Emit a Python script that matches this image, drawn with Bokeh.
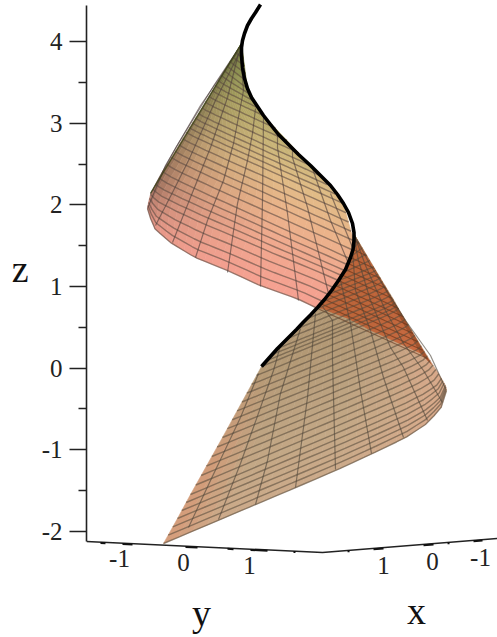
import numpy as np
from bokeh.plotting import figure
from bokeh.models import Range1d, LinearAxis, FixedTicker
from bokeh.core.properties import value
from bokeh.embed import file_html
from bokeh.resources import INLINE

# ---- readings from the picture (projected x, projected height) ----
z_ticks = [-2, -1, 0, 1, 2, 3, 4]
z_minor = [-1.5, -0.5, 0.5, 1.5, 2.5, 3.5]
z_bounds = (-2.125, 4.44)

y_tick_labels = ["-1", "0", "1"]
y_tick_x = [119, 183, 249]
y_tick_y = [558, 562, 565]
x_tick_labels = ["1", "0", "-1"]
x_tick_x = [383, 432, 480]
x_tick_y = [565, 561, 557]
floor_x = [86, 322, 497]
floor_y = [541, 552, 538]
tick_from = [100, 122, 185, 227, 250, 293, 347, 373, 423, 447, 473]
tick_to = [105, 132, 197, 233, 267, 295, 349, 383, 433, 449, 482]

curve_x = [260, 257.5, 255, 251, 247, 244, 242, 241, 241, 242, 244, 247, 251, 257, 263, 270, 278, 287, 298, 310,
           320, 330, 337, 343, 348, 352, 353.5, 353.5, 352.5, 350, 345, 338, 331, 324, 317, 310, 303, 296, 287, 277, 269, 261]
curve_y = [4, 8, 12, 18, 25, 33, 40, 47, 55, 67, 78, 88, 97, 106, 115, 124, 134, 143, 154, 165,
           175, 185, 194, 203, 212, 223, 232, 240, 249, 257, 269, 280, 290, 299, 307, 314.5, 321.5, 329, 338, 348, 357, 366]

# upper sheet: cross lines, anchors by line number
up_j = [0, 6, 10, 14, 18, 22, 24, 26, 28, 30, 32]
up_lx = [241, 224, 212, 198, 186, 171, 162, 155, 150, 148, 147]
up_ly = [43, 70, 90, 113, 132, 157, 171, 184, 194, 202, 208]
up_rx = [241, 247, 263, 310, 343, 353, 349, 344, 338, 328, 317]
up_ry = [43, 88, 115, 165, 203, 240, 258, 270, 280, 294, 308]
up_sag = [0, 0.5, 1, 1, 1, 1.5, 2, 2, 5, 13, 21]
up_sag_w = [0, 0.035, 0.135, 0.28, 0.47, 0.66, 0.88, 1]
up_sag_f = [0, 0.74, 0.98, 1.0, 0.71, 0.52, 0.1, 0]
up_col_j = [0, 6, 10, 14, 18, 22, 26, 32]
up_col_r = [112, 150, 176, 205, 224, 234, 240, 245]
up_col_g = [122, 150, 165, 182, 188, 180, 170, 160]
up_col_b = [62, 85, 100, 122, 134, 138, 142, 145]

# lower sheet: cross lines, anchors by line number
lo_j = [0, 4, 8, 12, 16, 19, 27, 33, 36, 39]
lo_lx = [353, 358, 373, 382, 393, 398, 424, 441, 445, 446]
lo_ly = [233, 241, 266, 281, 299, 308, 351, 378, 385, 390]
lo_rx = [353, 352, 338, 317, 277, 261, 222, 190, 177, 163]
lo_ry = [233, 250, 280, 308, 348, 366, 437, 494, 518, 543]
lo_sag = [0, 0, 0.5, 1, 1.5, 2, 3, 8, 16, 25]
lo_sag_w = [0, 0.014, 0.064, 0.145, 0.261, 0.392, 0.534, 0.675, 0.806, 1]
lo_sag_f = [0, 0.52, 0.89, 1.0, 0.92, 0.8, 0.62, 0.43, 0.26, 0]
lo_col_j = [0, 19, 27, 33, 39]
lo_col_r = [172, 178, 188, 196, 204]
lo_col_g = [148, 152, 162, 168, 170]
lo_col_b = [110, 116, 128, 134, 138]

# generators (meridians)
up_gen = [
    ([150, 176, 214, 238], [193, 146, 84, 48]),
    ([147, 165, 200, 238], [208, 165, 105, 50]),
    ([155, 173, 188, 215, 240], [225, 190, 160, 100, 50]),
    ([172, 190, 210, 227, 238], [242, 197, 147, 97, 53]),
    ([195, 207, 223, 233, 243, 241], [257, 220, 180, 143, 90, 64]),
    ([227, 237, 247, 252, 255], [272, 203, 160, 133, 108]),
    ([260, 262, 263], [286, 200, 117]),
    ([298, 287, 277, 277], [300, 213, 147, 132]),
    ([328, 307, 292, 292], [293, 207, 157, 149]),
    ([348, 330, 312], [263, 220, 168]),
    ([352, 330], [247, 193]),
]
lo_gen = [
    ([188, 210, 240, 258], [527, 480, 417, 373]),
    ([218, 240, 260, 273, 280], [519, 463, 407, 370, 345]),
    ([255, 267, 280, 300], [504, 460, 393, 328]),
    ([295, 307, 315], [487, 397, 313]),
    ([335, 332, 332, 322], [469, 360, 320, 306]),
    ([371, 360, 350, 340], [453, 390, 323, 280]),
    ([403, 383, 370, 355, 352], [437, 377, 330, 290, 250]),
    ([427, 403, 390, 370, 358, 353], [420, 367, 347, 300, 260, 235]),
    ([442, 423, 403, 385, 365, 354], [402, 370, 343, 310, 265, 235]),
    ([445, 430, 405, 370, 354], [388, 355, 320, 265, 235]),
]
edge_x = [241, 150]
edge_y = [43, 193]

# dark fold where the sheet is seen through itself
fold_x = [317, 324, 338, 350, 353.5, 353, 432, 420, 370, 347]
fold_y = [307, 299, 280, 257, 240, 233, 365, 353, 330, 318]
wedge_x = [356, 432, 420, 395, 372]
wedge_y = [238, 365, 353, 310, 265]
back_k = [0, 6, 10, 12]
back_sx = [317, 338, 350, 353]
back_sy = [308, 280, 257, 240]
back_ex = [427, 398, 374, 359]
back_ey = [358, 308, 268, 243]

# ---- figure ----
p = figure(width=497, height=637, output_backend="svg", toolbar_location=None,
           x_range=Range1d(86, 497), y_range=Range1d(637, 0),
           min_border_left=86, min_border_right=0, min_border_top=0, min_border_bottom=0,
           outline_line_color=None, background_fill_color="white", border_fill_color="white",
           x_axis_location=None, y_axis_location=None)
p.xgrid.visible = False
p.ygrid.visible = False

p.extra_y_ranges = {"z": Range1d((367.5 - 637) / 81.6, 367.5 / 81.6)}
ax = LinearAxis(y_range_name="z", bounds=z_bounds,
                ticker=FixedTicker(ticks=z_ticks, minor_ticks=z_minor),
                major_label_overrides={t: str(t) for t in z_ticks})
ax.axis_line_color = "#222222"
ax.axis_line_width = 1.6
ax.major_tick_line_color = "#222222"
ax.major_tick_line_width = 1.6
ax.minor_tick_line_color = "#222222"
ax.minor_tick_line_width = 1.6
ax.major_tick_in = 0
ax.major_tick_out = 17
ax.minor_tick_in = 0
ax.minor_tick_out = 8
ax.major_label_standoff = 7
ax.major_label_text_font = "Liberation Serif"
ax.major_label_text_font_size = "25px"
ax.major_label_text_color = "#222222"
ax.axis_label = "z\n\n"
ax.axis_label_orientation = "horizontal"
ax.axis_label_standoff = 10
ax.axis_label_text_font = "Liberation Serif"
ax.axis_label_text_font_style = "normal"
ax.axis_label_text_font_size = "38px"
ax.axis_label_text_color = "#111111"
p.add_layout(ax, "left")


def sheet(j_a, lx, ly, rx, ry, sag, sw, sf):
    js = np.arange(j_a[-1] + 1)
    W = np.linspace(0, 1, 25) ** 1.25
    f = np.interp(W, sw, sf)
    Lx, Ly = np.interp(js, j_a, lx), np.interp(js, j_a, ly)
    Rx, Ry = np.interp(js, j_a, rx), np.interp(js, j_a, ry)
    S = np.interp(js, j_a, sag)
    X = Lx[:, None] + (Rx - Lx)[:, None] * W
    Y = Ly[:, None] + (Ry - Ly)[:, None] * W + S[:, None] * f
    return js, W, X, Y


def cells(X, Y, col):
    xs, ys, cs = [], [], []
    for j in range(X.shape[0] - 1):
        for i in range(X.shape[1] - 1):
            xs.append([X[j, i], X[j, i + 1], X[j + 1, i + 1], X[j + 1, i]])
            ys.append([Y[j, i], Y[j, i + 1], Y[j + 1, i + 1], Y[j + 1, i]])
            cs.append(col(j + .5, i + .5))
    return xs, ys, cs


def hexc(r, g, b):
    return "#%02x%02x%02x" % tuple(int(np.clip(round(v), 0, 255)) for v in (r, g, b))


# lower sheet
jl, Wl, Xl, Yl = sheet(lo_j, lo_lx, lo_ly, lo_rx, lo_ry, lo_sag, lo_sag_w, lo_sag_f)


def lo_col(j, i):
    w = np.interp(i, np.arange(len(Wl)), Wl)
    r = np.interp(j, lo_col_j, lo_col_r)
    g = np.interp(j, lo_col_j, lo_col_g)
    b = np.interp(j, lo_col_j, lo_col_b)
    o = np.interp(w, [0, .8, 1], [0, 0, .7]) * np.interp(j, [19, 30], [0, 1])
    q = np.interp(w, [0, .18, .4], [.7, .25, 0]) * np.interp(j, [19, 30], [.3, 1])
    r, g, b = r + (220 - r) * o, g + (150 - g) * o, b + (115 - b) * o
    r, g, b = r + (226 - r) * q, g + (170 - g) * q, b + (140 - b) * q
    return hexc(r, g, b)


xs, ys, cs = cells(Xl, Yl, lo_col)
p.patches(xs, ys, fill_color=cs, line_color=cs, line_width=0.6)
p.patch(fold_x, fold_y, fill_color="#c4400f", fill_alpha=0.58, line_color=None)
p.patch(wedge_x, wedge_y, fill_color="#4a2008", fill_alpha=0.3, line_color=None)

kk = np.arange(back_k[-1] + 1)
p.multi_line([[a, b] for a, b in zip(np.interp(kk, back_k, back_sx), np.interp(kk, back_k, back_ex))],
             [[a, b] for a, b in zip(np.interp(kk, back_k, back_sy), np.interp(kk, back_k, back_ey))],
             line_color="#5a2a12", line_alpha=0.55, line_width=1.1)
p.multi_line([list(r) for r in Xl[1:]], [list(r) for r in Yl[1:]],
             line_color="#5a4c3c", line_alpha=0.6, line_width=1.4)
p.multi_line([g[0] for g in lo_gen], [g[1] for g in lo_gen],
             line_color="#4c4438", line_alpha=0.6, line_width=1.2)

# upper sheet
ju, Wu, Xu, Yu = sheet(up_j, up_lx, up_ly, up_rx, up_ry, up_sag, up_sag_w, up_sag_f)


def up_col(j, i):
    w = np.interp(i, np.arange(len(Wu)), Wu)
    r = np.interp(j, up_col_j, up_col_r)
    g = np.interp(j, up_col_j, up_col_g)
    b = np.interp(j, up_col_j, up_col_b)
    d = np.interp(w, [0, .04, .12, .3, .6], [.62, .74, .84, .93, 1.0])
    d = 1 - (1 - d) * np.interp(j, [26, 32], [1, .2])
    return hexc(r * d, g * d, b * d)


xs, ys, cs = cells(Xu, Yu, up_col)
p.patches(xs, ys, fill_color=cs, line_color=cs, line_width=0.6)
p.multi_line([list(r) for r in Xu[1:]], [list(r) for r in Yu[1:]],
             line_color="#5c4a40", line_alpha=0.6, line_width=1.4)
p.multi_line([g[0] for g in up_gen], [g[1] for g in up_gen],
             line_color="#4c3e3a", line_alpha=0.6, line_width=1.2)
p.line(edge_x, edge_y, line_color="#3c4418", line_alpha=0.8, line_width=1.4)

# the thick curve
p.line(curve_x, curve_y, line_color="black", line_width=3.6, line_join="round")

# floor axes
p.line(floor_x, floor_y, line_color="#222222", line_width=1.5)
tx0, tx1 = np.array(tick_from, float), np.array(tick_to, float)
p.segment(tx0, np.interp(tx0, floor_x, floor_y) + 0.8, tx1, np.interp(tx1, floor_x, floor_y) + 0.8,
          line_color="#111111", line_width=2)
serif = value("Liberation Serif")
p.text(y_tick_x, y_tick_y, text=y_tick_labels, text_font=serif, text_font_size="25px",
       text_color="#222222", text_align="center", text_baseline="middle")
p.text(x_tick_x, x_tick_y, text=x_tick_labels, text_font=serif, text_font_size="25px",
       text_color="#222222", text_align="center", text_baseline="middle")
p.text([201], [612], text=["y"], text_font=serif, text_font_size="38px",
       text_color="#111111", text_align="center", text_baseline="middle")
p.text([416], [610], text=["x"], text_font=serif, text_font_size="38px",
       text_color="#111111", text_align="center", text_baseline="middle")

open("out.html", "w").write(file_html(p, INLINE))
